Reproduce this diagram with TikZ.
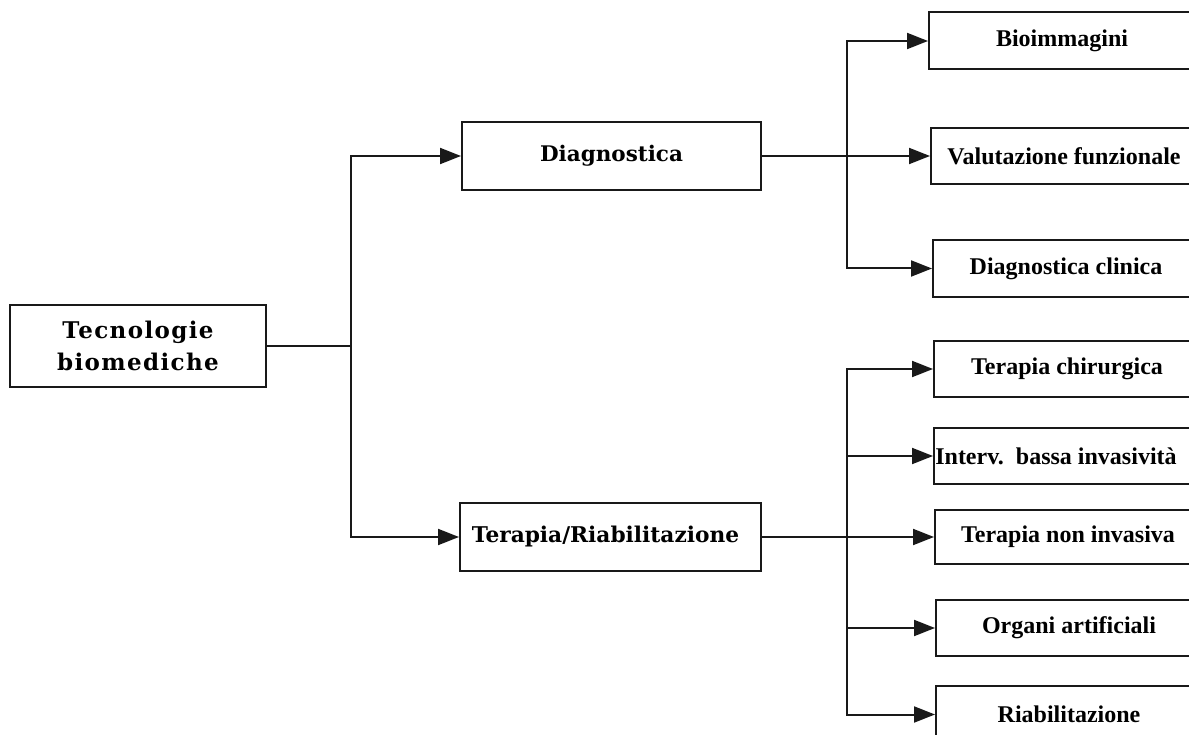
\documentclass[tikz,border=0pt]{standalone}
\usepackage{fontspec}
\setmainfont{Liberation Serif}
\newfontfamily\bigserif{DejaVu Serif}
\newfontfamily\bigserifspaced[LetterSpace=6]{DejaVu Serif}
\usetikzlibrary{arrows.meta}
\begin{document}
\begin{tikzpicture}[x=1pt,y=-1pt,
  box/.style={draw=black!90,line width=2pt,fill=white,inner sep=0pt,align=center},
  mainbox/.style={box,font=\bigserif\bfseries\fontsize{21.5}{30}\selectfont},
  leafbox/.style={box,anchor=west,minimum width=266pt,minimum height=56pt,font=\bfseries\fontsize{24}{26}\selectfont},
  conn/.style={draw=black!90,line width=2pt},
  arr/.style={conn,-{Triangle[length=21pt,width=16pt]}}]
\clip (0,0) rectangle (1189,735);
\fill[white] (0,0) rectangle (1189,735);
% main nodes
\node[mainbox,minimum width=256pt,minimum height=82pt,font=\bigserifspaced\bfseries\fontsize{23}{32}\selectfont] (tec) at (138,346) {Tecnologie\\biomediche};
\node[mainbox,minimum width=299pt,minimum height=68pt] (diag) at (611.5,156) {Diagnostica};
\node[mainbox,minimum width=301pt,minimum height=68pt,font=\bigserif\bfseries\fontsize{21.7}{30}\selectfont] (ter) at (610.5,537) {\hspace*{-10pt}Terapia/Riabilitazione};
% leaf nodes
\node[leafbox,minimum height=57pt] (bio) at (928,41) {Bioimmagini};
\node[leafbox] (val) at (930,156) {Valutazione funzionale};
\node[leafbox,minimum height=57pt] (dcl) at (932,268.5) {Diagnostica clinica};
\node[leafbox] (tch) at (933,369) {Terapia chirurgica};
\node[leafbox] (int) at (933,456) {\hspace*{-22pt}Interv.\ \ bassa invasivit\`a};
\node[leafbox,minimum height=54pt] (tni) at (934,537) {Terapia non invasiva};
\node[leafbox] (org) at (935,628) {Organi artificiali};
\node[leafbox,minimum height=57pt] (ria) at (935,714.5) {Riabilitazione};
% junctions
\coordinate (j1) at (351,346);
\coordinate (j2) at (847,156);
\coordinate (j3) at (847,537);
% connectors
\draw[conn] (tec.east) -- (j1);
\draw[arr] (j1) |- (diag.west);
\draw[arr] (j1) |- (ter.west);
\draw[arr] (diag.east) -- (val.west);
\draw[arr] (j2) |- (bio.west);
\draw[arr] (j2) |- (dcl.west);
\draw[arr] (ter.east) -- (tni.west);
\draw[arr] (j3) |- (tch.west);
\draw[arr] (j3) |- (int.west);
\draw[arr] (j3) |- (org.west);
\draw[arr] (j3) |- (ria.west);
\end{tikzpicture}
\end{document}
